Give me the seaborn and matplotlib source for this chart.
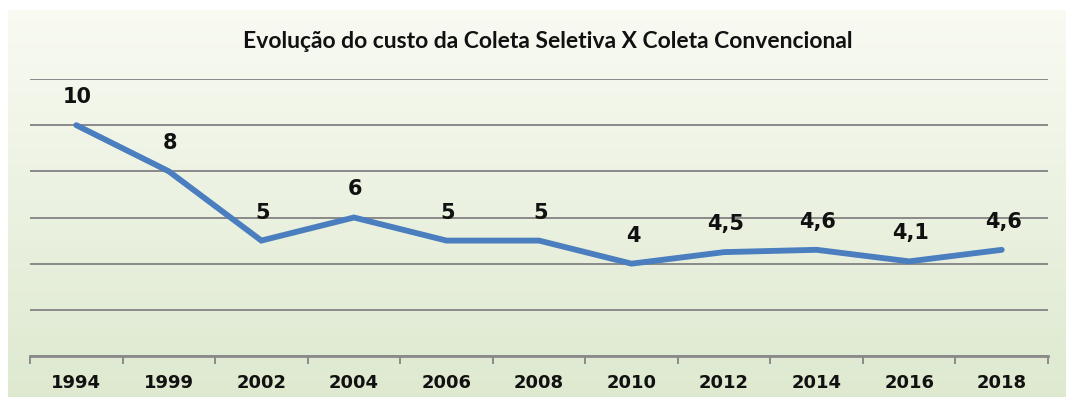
import numpy as np
import pandas as pd
import matplotlib
matplotlib.use("Agg")
import matplotlib.pyplot as plt
import seaborn as sns
from matplotlib.ticker import FixedLocator

years = ["1994", "1999", "2002", "2004", "2006", "2008", "2010", "2012", "2014", "2016", "2018"]
values = [10, 8, 5, 6, 5, 5, 4, 4.5, 4.6, 4.1, 4.6]
labels = ["10", "8", "5", "6", "5", "5", "4", "4,5", "4,6", "4,1", "4,6"]
title = "Evolução do custo da Coleta Seletiva X Coleta Convencional"

sns.set_theme(style="white")
plt.rcParams['font.family'] = ['DejaVu Sans']

W, H = 1083, 401
fig = plt.figure(figsize=(W / 100, H / 100), dpi=100)
fig.patch.set_facecolor("white")

# background gradient panel
bg = fig.add_axes([8 / W, 4 / H, (1066 - 8) / W, (391 - 4) / H])
bg.set_axis_off()
t = np.linspace(0, 1, 256)[:, None]
top = np.array([0.975, 0.982, 0.950])
bot = np.array([0.870, 0.915, 0.815])
grad = top[None, None, :] * (1 - t[..., None]) + bot[None, None, :] * t[..., None]
grad = np.repeat(grad, 2, axis=1)
bg.imshow(grad, aspect="auto", extent=[0, 1, 0, 1])
bg.set_xlim(0, 1)
bg.set_ylim(0, 1)

ax = fig.add_axes([30 / W, 45 / H, (1048 - 30) / W, (356 - 79) / H])
ax.patch.set_alpha(0)

df = pd.DataFrame({"year": years, "value": values})
sns.lineplot(data=df, x="year", y="value", ax=ax, color="#4a7ebf", linewidth=4.2,
             sort=False, solid_joinstyle="miter")

ax.set_xlim(-0.5, len(years) - 0.5)
ax.set_ylim(0, 12)
ax.set_yticks([0, 2, 4, 6, 8, 10, 12])
ax.set_yticklabels([])
ax.tick_params(axis="y", length=0)
ax.grid(axis="y", color="#8a8a8a", linewidth=1.4)
ax.grid(axis="x", visible=False)
for s in ["left", "right", "top"]:
    ax.spines[s].set_visible(False)
ax.spines["bottom"].set_color("#8a8a8a")
ax.spines["bottom"].set_linewidth(2)

ax.set_xticks(range(len(years)))
ax.set_xticklabels(years, fontsize=13, fontweight="bold", color="#111111")
ax.tick_params(axis="x", which="major", length=0, pad=13)
ax.xaxis.set_minor_locator(FixedLocator(np.arange(-0.5, len(years), 1.0)))
ax.tick_params(axis="x", which="minor", length=6, width=1.4, color="#8a8a8a", bottom=True)
ax.set_xlabel("")
ax.set_ylabel("")

for i, (v, lab) in enumerate(zip(values, labels)):
    ax.annotate(lab, (i, v), xytext=(1, 13), textcoords="offset points",
                ha="center", va="bottom", fontsize=15, fontweight="bold", color="#111111")

fig.text(548 / W, 1 - 42 / H, title, ha="center", va="center",
         fontsize=16.5, fontweight="bold", family=["Lato", "DejaVu Sans"], color="#111111")

fig.savefig("out.png", dpi=100, facecolor=fig.get_facecolor())
